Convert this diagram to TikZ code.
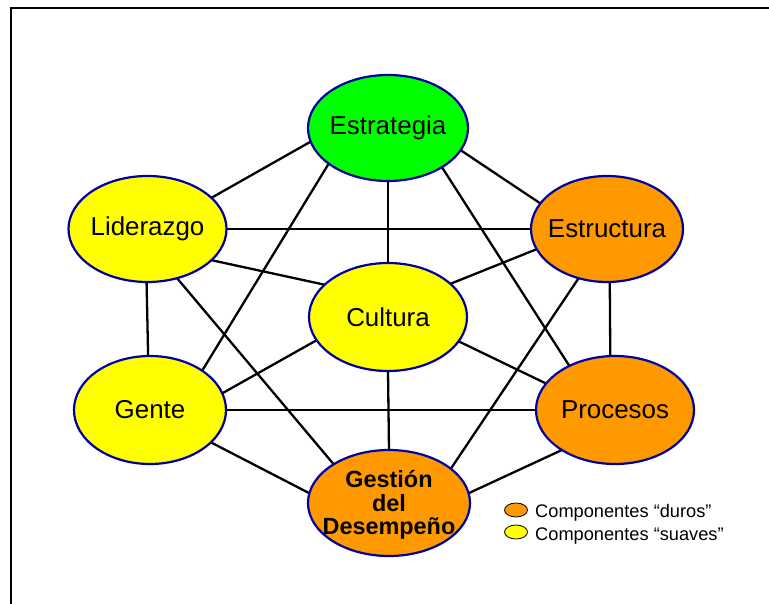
\documentclass[tikz,border=0pt]{standalone}
\usepackage{fontspec}
\setmainfont{Liberation Sans}
\usetikzlibrary{shapes.geometric,backgrounds}
\definecolor{cgreen}{RGB}{0,255,0}
\definecolor{corange}{RGB}{255,153,0}
\definecolor{cyellow}{RGB}{255,255,0}
\definecolor{cnavy}{RGB}{0,0,160}
\newcommand{\zw}[1]{\makebox[0pt]{#1}}
\begin{document}
\begin{tikzpicture}[x=1bp,y=-1bp,
  comp/.style={ellipse, draw=cnavy, line width=2.2bp, inner sep=0pt, outer sep=0pt,
    font=\fontsize{26}{30}\selectfont},
  link/.style={line width=2.3bp, black},
  keyell/.style={ellipse, draw=black, line width=0.8bp, inner sep=0pt,
    minimum width=23bp, minimum height=14bp},
  keytext/.style={anchor=base west, inner sep=0pt, font=\fontsize{18.3}{22}\selectfont},
  frame/.style={line width=2bp, black}]
\useasboundingbox (0,0) rectangle (769,604);
\draw[frame] (769,8) -- (11,8) -- (11,604);

\node[comp, fill=cgreen,  minimum width=160bp, minimum height=106bp] (E) at (388,128) {\zw{Estrategia}};
\node[comp, fill=cyellow, minimum width=158bp, minimum height=106bp] (L) at (147.5,229) {\zw{Liderazgo}};
\node[comp, fill=corange, minimum width=152bp, minimum height=106bp] (S) at (607,229) {\zw{Estructura}};
\node[comp, fill=cyellow, minimum width=158bp, minimum height=108bp] (C) at (388,317) {\zw{Cultura}};
\node[comp, fill=cyellow, minimum width=152bp, minimum height=108bp] (G) at (150,410) {\zw{Gente}};
\node[comp, fill=corange, minimum width=158bp, minimum height=108bp] (P) at (615,410) {\zw{Procesos}};
\node[comp, fill=corange, minimum width=162bp, minimum height=106bp,
  label={[inner sep=0pt, yshift=-3bp, font=\bfseries\fontsize{23.5}{22.5}\selectfont]center:{\begin{tabular}{@{}c@{}}Gestión\\del\\Desempeño\end{tabular}}}] (D) at (389,503) {};

\begin{scope}[on background layer]
\draw[link] (E.190.6) -- (L.26.2);
\draw[link] (E.343.4) -- (S.159.7);
\draw[link] (E.270) -- (C.90);
\draw[link] (E.211.8) -- (G.37.7);
\draw[link] (E.324.7) -- (P.136.2);
\draw[link] (L.east) -- (S.west);
\draw[link] (L.334.5) -- (C.153.4);
\draw[link] (L.269.6) -- (G.92);
\draw[link] (L.301.8) -- (D.145.8);
\draw[link] (S.196.3) -- (C.28);
\draw[link] (S.273.2) -- (P.95.3);
\draw[link] (S.240) -- (D.29.9);
\draw[link] (C.198.2) -- (G.13.1);
\draw[link] (C.341.6) -- (P.159.8);
\draw[link] (C.270) -- (D.90);
\draw[link] (G.east) -- (P.west);
\draw[link] (G.332.7) -- (D.173.7);
\draw[link] (P.217.2) -- (D.7.7);
\end{scope}

\node[keyell, fill=corange] (K1) at (516,510) {};
\node[keyell, fill=cyellow] (K2) at (516,532) {};
\node[keytext] (T1) at (535,517) {Componentes “duros”};
\node[keytext] (T2) at (535,540) {Componentes “suaves”};
\end{tikzpicture}
\end{document}
